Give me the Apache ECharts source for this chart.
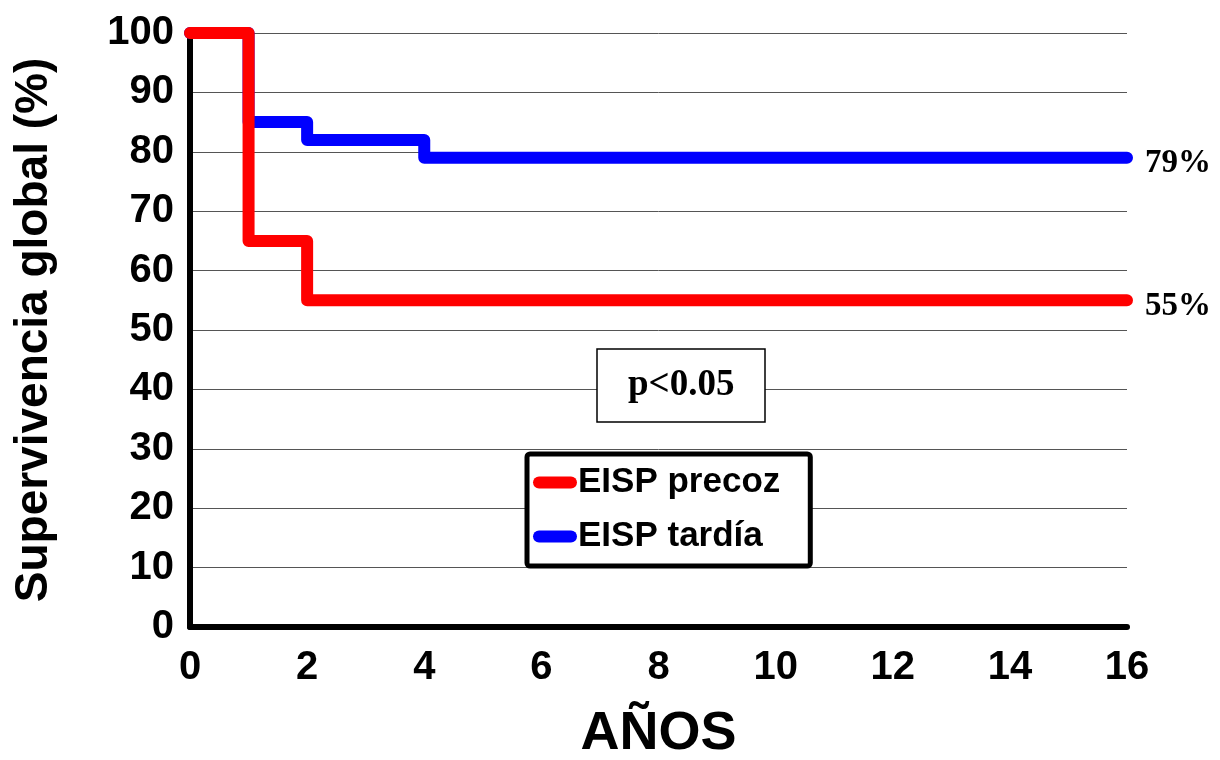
<!DOCTYPE html>
<html>
<head>
<meta charset="utf-8">
<title>Supervivencia global</title>
<script src="https://cdn.jsdelivr.net/npm/echarts@6/dist/echarts.min.js"></script>
<style>
  html, body { margin: 0; padding: 0; background: #ffffff; }
  #chart { width: 1220px; height: 760px; }
</style>
</head>
<body>
<div id="chart"></div>
<script>
// Kaplan-Meier style survival steps (years, % survival)
const precozName = 'EISP precoz';
const precozYears = [0, 1, 2, 16];
const precozSurvival = [100, 65, 55, 55];

const tardiaName = 'EISP tardía';
const tardiaYears = [0, 1, 2, 4, 16];
const tardiaSurvival = [100, 85, 82, 79, 79];

const xAxisTitle = 'AÑOS';
const yAxisTitle = 'Supervivencia global (%)';
const pValueText = 'p<0.05';

const toPoints = (xs, ys) => xs.map((x, i) => [x, ys[i]]);

const sansBold = { fontFamily: '"Liberation Sans", Arial, sans-serif', fontWeight: 'bold', color: '#000' };
const serifBold = { fontFamily: '"Liberation Serif", "Times New Roman", serif', fontWeight: 'bold', color: '#000' };

const capsule = 'path://M6,0 L38,0 A6,6 0 0 1 38,12 L6,12 A6,6 0 0 1 6,0 Z';

function stepSeries(name, color, xs, ys) {
  return {
    name: name,
    type: 'line',
    step: 'end',
    symbol: 'none',
    data: toPoints(xs, ys),
    color: color,
    lineStyle: { color: color, width: 12, cap: 'round', join: 'round' },
    endLabel: {
      show: true,
      formatter: p => p.value[1] + '%',
      distance: 18,
      offset: [0, 6],
      fontSize: 33,
      ...serifBold
    },
    emphasis: { disabled: true }
  };
}

const chart = echarts.init(document.getElementById('chart'), null, { renderer: 'canvas' });

chart.setOption({
  backgroundColor: '#ffffff',
  animation: false,
  grid: { left: 190, right: 93, top: 33, bottom: 133, containLabel: false, outerBoundsMode: 'none' },
  title: {
    text: pValueText,
    left: 597,
    top: 349,
    padding: [18, 31, 18, 31],
    backgroundColor: '#ffffff',
    borderColor: '#000000',
    borderWidth: 1.5,
    textStyle: { fontSize: 37, ...serifBold }
  },
  legend: {
    data: [precozName, tardiaName],
    orient: 'vertical',
    left: 527,
    top: 454,
    padding: [11, 30, 12, 6],
    itemGap: 19,
    itemWidth: 44,
    itemHeight: 12,
    icon: capsule,
    backgroundColor: '#ffffff',
    borderColor: '#000000',
    borderWidth: 5,
    borderRadius: 3,
    textStyle: { fontSize: 35, ...sansBold, padding: [0, 0, 0, -4] }
  },
  xAxis: {
    type: 'value',
    min: 0,
    max: 16,
    interval: 2,
    name: xAxisTitle,
    nameLocation: 'middle',
    nameGap: 80,
    nameTextStyle: { fontSize: 54, ...sansBold },
    axisLine: { show: true, onZero: false, lineStyle: { color: '#000', width: 6, cap: 'round' } },
    axisTick: { show: false },
    splitLine: { show: false },
    axisLabel: { margin: 21, fontSize: 40, ...sansBold }
  },
  yAxis: {
    type: 'value',
    min: 0,
    max: 100,
    interval: 10,
    name: yAxisTitle,
    nameLocation: 'middle',
    nameGap: 133,
    nameTextStyle: { fontSize: 46, ...sansBold },
    axisLine: { show: true, lineStyle: { color: '#000', width: 6, cap: 'round' } },
    axisTick: { show: false },
    splitLine: { show: true, lineStyle: { color: '#555', width: 1 } },
    axisLabel: { margin: 16, fontSize: 40, ...sansBold }
  },
  series: [
    stepSeries(tardiaName, '#0000ff', tardiaYears, tardiaSurvival),
    stepSeries(precozName, '#ff0000', precozYears, precozSurvival)
  ]
});
</script>
</body>
</html>
